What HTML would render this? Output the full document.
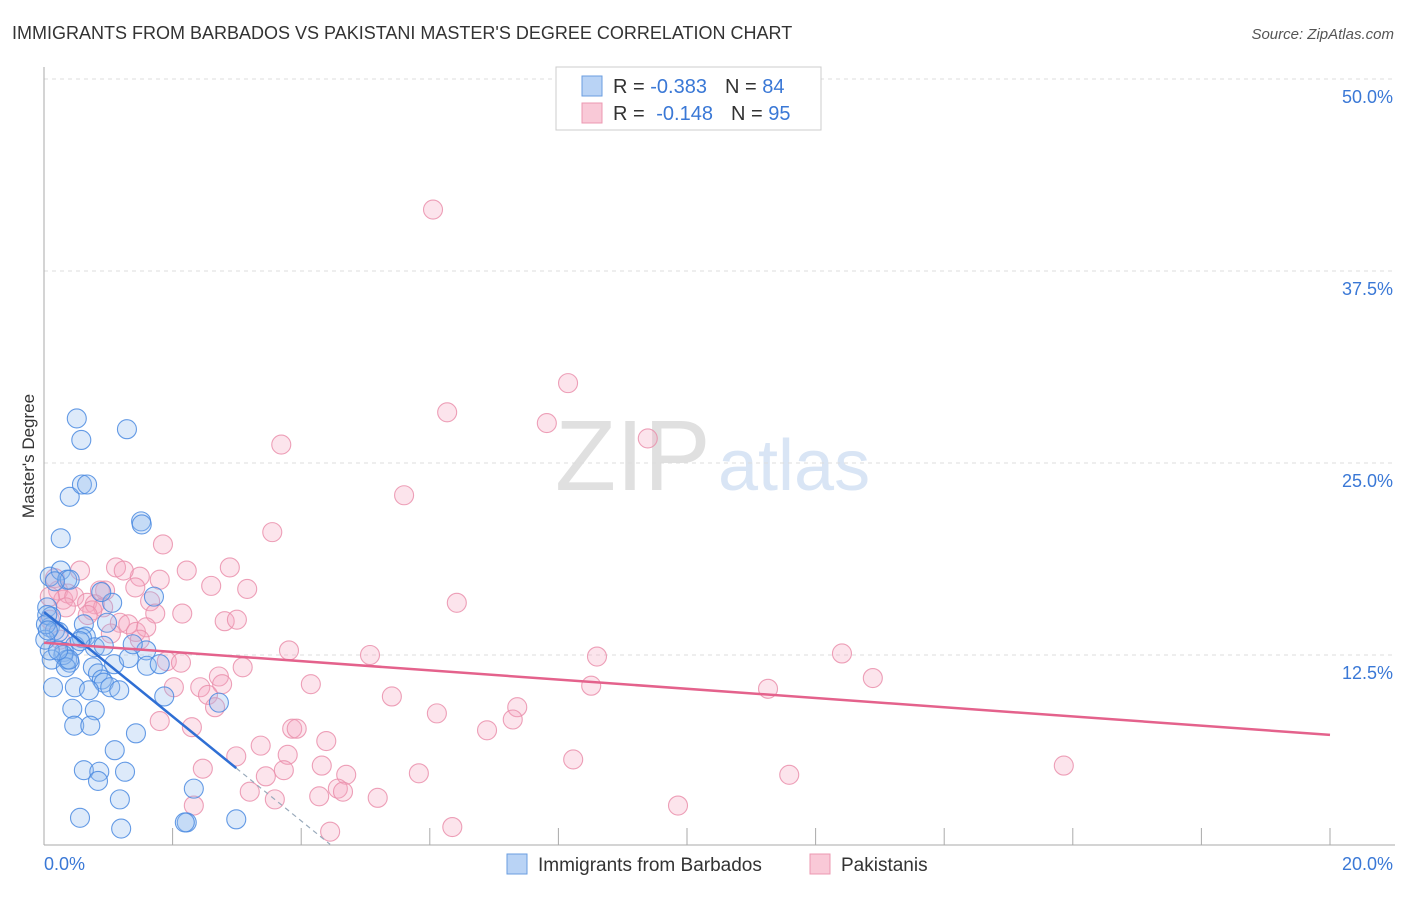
<!DOCTYPE html>
<html><head><meta charset="utf-8"><style>
body{margin:0;background:#fff;font-family:"Liberation Sans",sans-serif;}
svg text{font-family:"Liberation Sans",sans-serif;}
</style></head><body>
<svg id="chart" width="1406" height="892">
<text x="12" y="39" font-size="18" fill="#333">IMMIGRANTS FROM BARBADOS VS PAKISTANI MASTER'S DEGREE CORRELATION CHART</text>
<text x="1394" y="39" font-size="15" fill="#555" font-style="italic" text-anchor="end">Source: ZipAtlas.com</text>
<text x="34" y="456" font-size="17" fill="#333" transform="rotate(-90 34 456)" text-anchor="middle">Master's Degree</text>
<text x="555" y="490" font-size="100" fill="#e0e0e0" font-family="Liberation Serif">ZIP</text>
<text x="718" y="490" font-size="72" fill="#d9e5f5">atlas</text>
<g id="grid"></g><g id="axes"></g><g id="pts"></g><g id="trend"></g>
<g>
<rect x="556" y="67" width="265" height="63" fill="#fff" stroke="#ccc"/>
<rect x="582" y="76" width="20" height="20" fill="#b9d3f5" stroke="#6a9ee0"/>
<rect x="582" y="103" width="20" height="20" fill="#f9c9d7" stroke="#ec98b2"/>
<text x="613" y="93" font-size="20" fill="#333">R = <tspan fill="#3a78d6">-0.383</tspan><tspan dx="18" fill="#333">N = </tspan><tspan fill="#3a78d6">84</tspan></text>
<text x="613" y="120" font-size="20" fill="#333">R = <tspan dx="6" fill="#3a78d6">-0.148</tspan><tspan dx="18" fill="#333">N = </tspan><tspan fill="#3a78d6">95</tspan></text>
</g>
<g>
<rect x="507" y="854" width="20" height="20" fill="#b9d3f5" stroke="#6a9ee0"/>
<text x="538" y="871" font-size="19" fill="#333">Immigrants from Barbados</text>
<rect x="810" y="854" width="20" height="20" fill="#f9c9d7" stroke="#ec98b2"/>
<text x="841" y="871" font-size="19" fill="#333">Pakistanis</text>
</g>
</svg>
<script>
const blueX=[0.51,0.58,1.29,0.40,0.59,0.67,0.26,1.51,1.52,0.09,0.26,0.36,0.40,0.17,0.05,0.11,0.09,0.17,0.23,0.62,0.65,0.59,1.06,0.89,0.98,1.71,0.79,0.93,0.48,0.31,0.36,0.40,0.30,0.12,0.09,0.76,0.84,0.90,0.93,1.03,1.17,1.09,1.32,1.59,1.60,1.80,0.02,0.14,0.48,0.70,0.44,0.79,0.47,0.72,1.43,1.87,2.72,1.10,0.62,0.86,0.84,1.26,1.18,2.33,0.56,1.20,2.22,2.19,2.99,0.05,0.03,0.06,0.34,0.39,0.22,0.56,1.38];
const blueY=[27.9,26.5,27.2,22.8,23.6,23.6,20.1,21.2,21.0,17.6,18.0,17.4,17.4,17.3,15.6,15.0,14.3,14.1,14.0,14.5,13.7,13.6,15.9,16.6,14.6,16.3,13.0,13.1,13.1,12.7,12.2,12.0,12.5,12.2,12.8,11.7,11.3,10.9,10.7,10.4,10.2,11.9,12.3,12.8,11.8,11.9,13.5,10.4,10.4,10.2,9.0,8.9,7.9,7.9,7.4,9.8,9.4,6.3,5.0,4.9,4.3,4.9,3.1,3.8,1.9,1.2,1.6,1.6,1.8,15.1,14.5,14.1,11.7,12.2,12.8,13.4,13.2];
const pinkX=[6.05,8.15,6.27,7.82,9.39,3.69,5.60,3.55,1.85,1.12,0.56,2.22,2.89,1.49,2.60,3.16,1.42,0.95,0.87,0.17,0.22,0.30,0.37,0.47,0.09,0.67,0.79,0.92,0.75,1.65,1.73,2.15,2.81,3.00,6.42,1.18,1.31,1.43,1.59,1.04,0.68,0.34,3.81,5.07,8.60,12.41,1.91,2.13,3.09,2.72,2.77,2.43,2.02,4.15,8.51,11.26,12.89,5.41,2.55,2.66,2.30,1.80,7.36,6.11,7.29,6.89,3.86,3.93,4.39,2.99,3.37,3.79,2.47,4.32,4.70,3.45,3.73,5.83,8.23,11.59,15.86,3.20,4.57,4.65,4.28,5.19,3.59,2.33,9.86,6.35,4.45,1.80,1.24,0.09,0.25,1.49];
const pinkY=[41.5,30.2,28.3,27.6,26.6,26.2,22.9,20.5,19.7,18.2,18.0,18.0,18.2,17.6,17.0,16.8,16.9,16.7,16.7,17.5,16.7,16.1,16.5,16.3,16.3,15.9,15.8,15.6,15.4,16.0,15.2,15.2,14.7,14.8,15.9,14.6,14.5,14.0,14.3,13.9,15.1,15.6,12.8,12.5,12.4,12.6,12.1,12.0,11.7,11.1,10.6,10.4,10.4,10.6,10.5,10.3,11.0,9.8,9.9,9.1,7.8,8.2,9.1,8.7,8.3,7.6,7.7,7.7,6.9,5.9,6.6,6.0,5.1,5.3,4.7,4.6,5.0,4.8,5.7,4.7,5.3,3.6,3.8,3.6,3.3,3.2,3.1,2.7,2.7,1.3,1.0,17.4,18.0,14.8,13.5,13.5];
const yTicks=[12.5,25.0,37.5,50.0];
const xTickVals=[0,2,4,6,8,10,12,14,16,18,20];
const blueTrend=[15.3,-3.4]; // intercept, slope
const pinkTrend=[13.3,-0.30];
const blueSolidEnd=2.99, blueDashEnd=4.45;

const NS="http://www.w3.org/2000/svg";
const sx=v=>44+v*64.3, sy=v=>847-v*15.36;
function mk(tag,attrs,parent){const e=document.createElementNS(NS,tag);for(const k in attrs)e.setAttribute(k,attrs[k]);parent.appendChild(e);return e;}
const grid=document.getElementById('grid'),axes=document.getElementById('axes'),pts=document.getElementById('pts'),tr=document.getElementById('trend');
yTicks.forEach(t=>{
 const l=mk('line',{x1:44,x2:1395,y1:sy(t),y2:sy(t),stroke:'#ddd','stroke-dasharray':'4 4'},grid);
 
 
 const tx=mk('text',{x:1393,y:sy(t)+24,'font-size':18,fill:'#3a78d6','text-anchor':'end'},grid);
 tx.textContent=t.toFixed(1)+'%';
 
 
});
const ya=mk('line',{x1:44,x2:44,y1:67,y2:845,stroke:'#aaa'},axes);


const xa=mk('line',{x1:44,x2:1395,y1:845,y2:845,stroke:'#aaa'},axes);


xTickVals.forEach(t=>{
 const l=mk('line',{x1:sx(t),x2:sx(t),y1:828,y2:845,stroke:'#aaa'},axes);
 
 
});
[[0,'0.0%',44,'start'],[20,'20.0%',1393,'end']].forEach(a=>{
 const tx=mk('text',{x:a[2],y:870,'font-size':18,fill:'#3a78d6','text-anchor':a[3]},axes);
 tx.textContent=a[1];
 
 
});
function dots(X,Y,fill,stroke,name){X.forEach((x,i)=>{
 const c=mk('circle',{cx:sx(x),cy:sy(Y[i]),r:9.5,fill:fill,'fill-opacity':0.3,stroke:stroke,'stroke-width':1.1,'stroke-opacity':0.85},pts);
 
 
});}
dots(pinkX,pinkY,'#f4a6bf','#ea8fac','point-pakistani');
dots(blueX,blueY,'#8db8ee','#4a8ae0','point-barbados');
const f=(p,x)=>p[0]+p[1]*x;
const b1=mk('line',{x1:sx(0),y1:sy(f(blueTrend,0)),x2:sx(blueSolidEnd),y2:sy(f(blueTrend,blueSolidEnd)),stroke:'#2f6fd4','stroke-width':2.5},tr);


const b2=mk('line',{x1:sx(blueSolidEnd),y1:sy(f(blueTrend,blueSolidEnd)),x2:sx(blueDashEnd),y2:sy(f(blueTrend,blueDashEnd)),stroke:'#9ab','stroke-width':1.2,'stroke-dasharray':'5 4'},tr);


const p1=mk('line',{x1:sx(0),y1:sy(f(pinkTrend,0)),x2:sx(20),y2:sy(f(pinkTrend,20)),stroke:'#e4628c','stroke-width':2.5},tr);


</script>
</body></html>
